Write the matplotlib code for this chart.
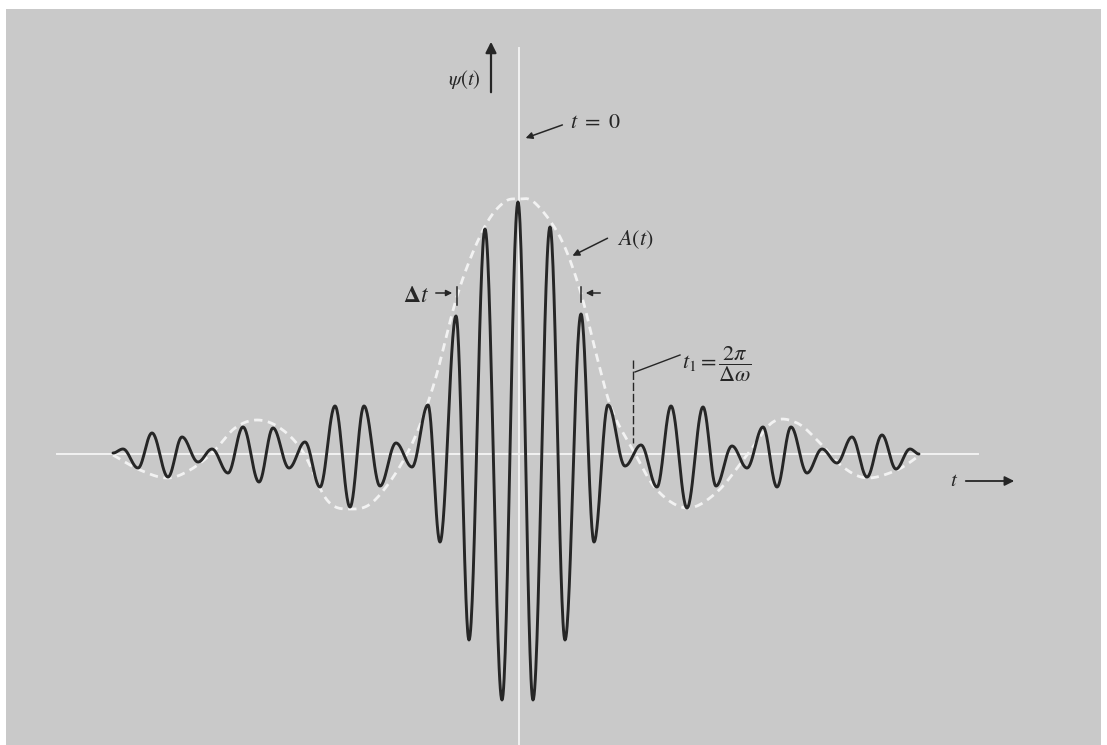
import numpy as np
import matplotlib
matplotlib.use("Agg")
import matplotlib.pyplot as plt

plt.rcParams["mathtext.fontset"] = "stix"
plt.rcParams["font.family"] = ["Liberation Serif", "DejaVu Serif"]

# 1. Values (t along the axis, psi up; arbitrary units)
# turning points of the wave packet psi(t), left to right
wave_t = [-40.6, -39.6, -38.1, -36.7, -35.1, -33.7, -32.1, -30.7, -29.1, -27.6,
          -26.0, -24.6, -23.0, -21.4, -19.9, -18.4, -16.9, -15.5, -13.9, -12.3,
          -10.7, -9.1, -7.9, -6.3, -5.0, -3.4, -1.7, -0.1, 1.4, 3.1,
          4.6, 6.2, 7.5, 8.9, 10.6, 12.2, 13.8, 15.2, 16.8, 18.4,
          19.7, 21.3, 22.8, 24.4, 25.8, 27.2, 28.8, 30.3, 31.8, 33.3,
          34.8, 36.3, 37.7, 39.1, 40.0]
wave_psi = [0.0, 0.4, -1.5, 2.0, -2.4, 1.6, -0.9, 0.4, -2.0, 2.6,
            -2.9, 2.5, -1.5, 1.1, -3.4, 4.7, -5.4, 4.7, -3.3, 1.0,
            -1.4, 4.8, -8.9, 13.7, -18.7, 22.4, -24.7, 25.1, -24.7, 22.6,
            -18.7, 13.9, -8.9, 4.8, -1.3, 0.8, -3.4, 4.7, -5.5, 4.6,
            -3.3, 0.7, -1.5, 2.6, -3.4, 2.6, -2.0, 0.4, -1.0, 1.6,
            -2.4, 1.8, -1.6, 0.4, -0.1]

# envelope A(t) (white dashed)
env_t = [-40.6, -37.9, -35.2, -32.9, -30.6, -28.4, -26.2, -23.9, -21.6, -19.2,
         -16.9, -14.4, -11.1, -8.6, -6.1, -3.6, -1.6, 0.0, 1.6, 4.1,
         6.1, 7.8, 9.3, 11.4, 13.8, 16.8, 19.8, 22.8, 25.4, 27.8,
         30.1, 32.4, 34.8, 37.8, 40.1]
env_psi = [-0.2, -1.7, -2.5, -1.7, 0.1, 2.5, 3.3, 2.5, 0.1, -4.7,
           -5.6, -4.7, 0.1, 6.6, 16.0, 22.3, 25.0, 25.4, 25.0, 21.6,
           16.3, 9.6, 4.3, 0.3, -3.7, -5.5, -3.9, -0.2, 3.1, 3.0,
           1.0, -1.4, -2.5, -1.7, -0.2]

t1 = 11.4           # position of t_1 marker
dt_left, dt_right = -6.2, 6.2   # Delta t markers


def cos_segments(xs, ys, n=30):
    # smooth half-cosine between successive turning points
    px, py = [], []
    for i in range(len(xs) - 1):
        s = np.linspace(0, 1, n, endpoint=False)
        w = (1 - np.cos(np.pi * s)) / 2
        px.append(xs[i] + (xs[i + 1] - xs[i]) * s)
        py.append(ys[i] + (ys[i + 1] - ys[i]) * w)
    px.append([xs[-1]])
    py.append([ys[-1]])
    return np.concatenate(px), np.concatenate(py)


def catmull(xs, ys, n=16):
    p = np.column_stack([xs, ys])
    p = np.vstack([p[0], p, p[-1]])
    out = []
    s = np.linspace(0, 1, n, endpoint=False)[:, None]
    for i in range(1, len(p) - 2):
        p0, p1, p2, p3 = p[i - 1], p[i], p[i + 1], p[i + 2]
        out.append(0.5 * (2 * p1 + (-p0 + p2) * s
                          + (2 * p0 - 5 * p1 + 4 * p2 - p3) * s ** 2
                          + (-p0 + 3 * p1 - 3 * p2 + p3) * s ** 3))
    out.append(p[-2][None])
    out = np.vstack(out)
    return out[:, 0], out[:, 1]


# 2. Figure: grey scanned page with a thin white border
fig = plt.figure(figsize=(11.07, 7.45), dpi=100, facecolor="white")
ax = fig.add_axes([6 / 1107, 0, 1095 / 1107, 736 / 745])
ax.set_facecolor("#c9c9c9")
ax.set_xlim(-51.3, 58.2)
ax.set_ylim(-29.2, 44.4)
for sp in ax.spines.values():
    sp.set_visible(False)
ax.set_xticks([])
ax.set_yticks([])

ink = "#262626"
paper_white = "#f2f2f2"

# white axes lines
ax.plot([-46.2, 45.9], [-0.1, -0.1], color=paper_white, lw=1.4, zorder=1)
ax.plot([0, 0], [40.5, -30], color=paper_white, lw=1.4, zorder=1)

# envelope and wave
ex, ey = catmull(env_t, env_psi)
ax.plot(ex, ey, color=paper_white, lw=2.0, linestyle=(0, (3.0, 2.0)), zorder=2)
wx, wy = cos_segments(wave_t, wave_psi)
ax.plot(wx, wy, color=ink, lw=2.1, zorder=3, solid_capstyle="round")

# 3. Labels and arrows
ax.annotate("", xy=(-2.8, 41.4), xytext=(-2.8, 35.8),
            arrowprops=dict(arrowstyle="-|>", color=ink, lw=1.6, mutation_scale=16))
ax.text(-5.5, 37.3, r"$\psi(t)$", fontsize=15, color=ink, ha="center", va="center")
ax.annotate("", xy=(49.8, -2.8), xytext=(44.4, -2.8),
            arrowprops=dict(arrowstyle="-|>", color=ink, lw=1.3, mutation_scale=14))
ax.text(43.9, -2.9, r"$t$", fontsize=15, color=ink, ha="right", va="center")

ax.annotate("", xy=(0.4, 31.4), xytext=(4.6, 32.9),
            arrowprops=dict(arrowstyle="-|>", color=ink, lw=1.1, mutation_scale=10))
ax.text(5.1, 32.9, r"$t\ =\ 0$", fontsize=16, color=ink, ha="left", va="center")

ax.annotate("", xy=(5.1, 19.6), xytext=(9.1, 21.6),
            arrowprops=dict(arrowstyle="-|>", color=ink, lw=1.1, mutation_scale=10))
ax.text(9.8, 21.3, r"$A(t)$", fontsize=16, color=ink, ha="left", va="center")

# Delta t markers
ax.plot([dt_left, dt_left], [14.8, 16.6], color=ink, lw=1.1)
ax.plot([dt_right, dt_right], [15.1, 16.6], color=ink, lw=1.1)
ax.annotate("", xy=(dt_left - 0.2, 16.0), xytext=(-8.6, 16.0),
            arrowprops=dict(arrowstyle="-|>", color=ink, lw=1.1, mutation_scale=9))
ax.annotate("", xy=(dt_right + 0.2, 16.0), xytext=(8.4, 16.0),
            arrowprops=dict(arrowstyle="-|>", color=ink, lw=1.1, mutation_scale=9))
ax.text(-9.0, 15.6, r"$\mathbf{\Delta} t$", fontsize=17, color=ink, ha="right", va="center")

# t_1 marker
ax.plot([t1, t1], [9.3, 1.0], color=ink, lw=1.0, linestyle=(0, (6, 2)))
ax.plot([16.1, t1 + 0.2], [9.8, 8.1], color=ink, lw=1.0)
ax.text(16.3, 8.9, r"$t_1 = \dfrac{2\pi}{\Delta\omega}$", fontsize=16, color=ink,
        ha="left", va="center")

fig.savefig("out.png", dpi=100, facecolor="white")
